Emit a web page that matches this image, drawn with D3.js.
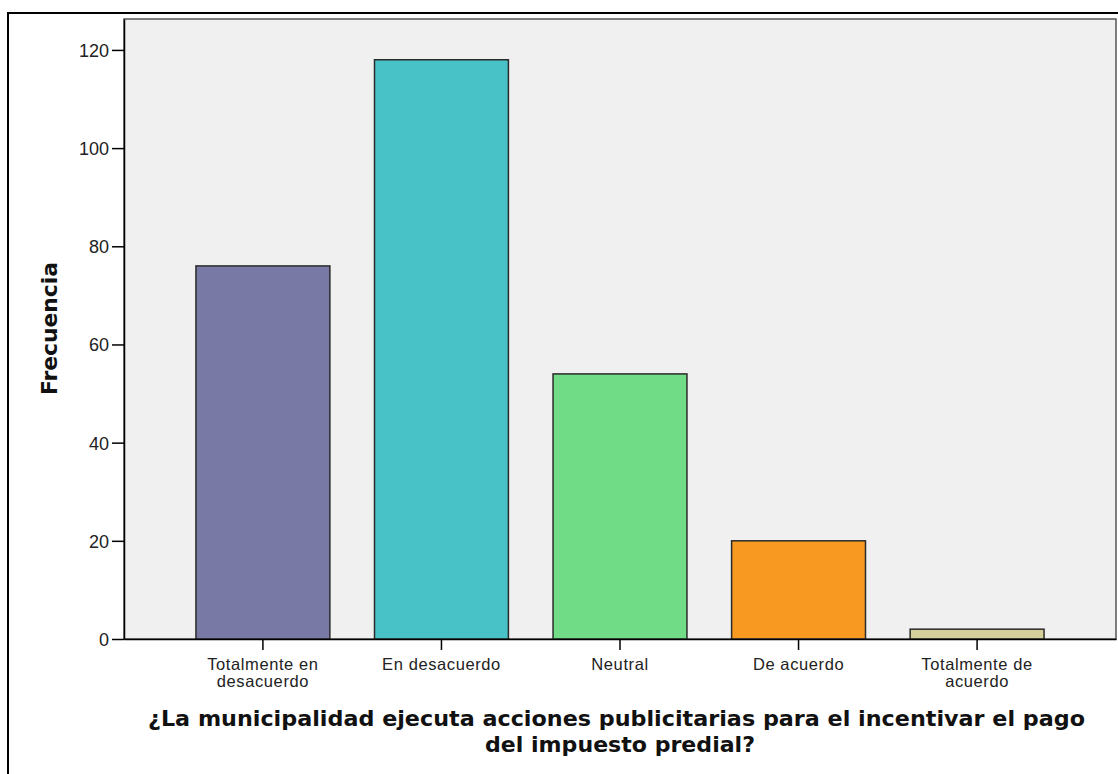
<!DOCTYPE html>
<html><head><meta charset="utf-8">
<script src="https://cdn.jsdelivr.net/npm/d3@7"></script>
<style>body{margin:0;background:#fff}svg{display:block}</style>
</head><body>
<svg id="chart" width="1118" height="774"></svg>
<script>
const categories = [["Totalmente en","desacuerdo"],["En desacuerdo"],["Neutral"],["De acuerdo"],["Totalmente de","acuerdo"]];
const values = [76, 118, 54, 20, 2];
const colors = ["#7979a6", "#48c2c6", "#70dd86", "#f89a21", "#d5cf9b"];
const yTicks = [0, 20, 40, 60, 80, 100, 120];
const yTitle = "Frecuencia";
const xTitle = ["¿La municipalidad ejecuta acciones publicitarias para el incentivar el pago","del impuesto predial?"];

const FONT = "Liberation Sans, Arial, sans-serif";
const BFONT = "DejaVu Sans, Verdana, sans-serif";
const svg = d3.select("#chart");
const plot = {left:124, right:1116, top:19, bottom:639};
const keys = categories.map(c => c.join(" "));
const x = d3.scaleBand().domain(keys).range([plot.left, plot.right]).paddingInner(0.25).paddingOuter(0.403);
const y = d3.scaleLinear().domain([0, 126.3]).range([plot.bottom, plot.top]);

// outer frame
svg.append("rect").attr("x",8).attr("y",13).attr("width",1130).attr("height",800)
  .attr("fill","none").attr("stroke","#000").attr("stroke-width",2);

// plot background
svg.append("rect").attr("x",plot.left).attr("y",plot.top).attr("width",plot.right-plot.left).attr("height",plot.bottom-plot.top)
  .attr("fill","#f0f0f0").attr("stroke","#555").attr("stroke-width",1.5);

// bars
svg.selectAll("rect.bar").data(values).enter().append("rect").attr("class","bar")
  .attr("x",(d,i)=>x(keys[i])).attr("width",x.bandwidth())
  .attr("y",d=>y(d)).attr("height",d=>y(0)-y(d))
  .attr("fill",(d,i)=>colors[i]).attr("stroke","#2a2a2a").attr("stroke-width",1.5);

// y axis
const yAxis = svg.append("g").attr("transform",`translate(${plot.left},0)`)
  .call(d3.axisLeft(y).tickValues(yTicks).tickSize(12).tickSizeOuter(0).tickPadding(3).tickFormat(d3.format("d")));
yAxis.select(".domain").attr("stroke","#000").attr("stroke-width",1.5);
yAxis.selectAll(".tick line").attr("stroke","#000").attr("stroke-width",1.5);
yAxis.selectAll(".tick text").attr("font-family",FONT).attr("font-size",18).attr("fill","#222").attr("dy","0.36em");

// x axis
const xAxis = svg.append("g").attr("transform",`translate(0,${plot.bottom})`)
  .call(d3.axisBottom(x).tickSize(11).tickSizeOuter(0).tickFormat(""));
xAxis.select(".domain").attr("stroke","#000").attr("stroke-width",1.5);
xAxis.selectAll(".tick line").attr("stroke","#000").attr("stroke-width",1.5);
xAxis.selectAll(".tick").each(function(d,i){
  const t = d3.select(this).append("text").attr("fill","#222")
    .attr("font-family",FONT).attr("font-size",16.5).attr("letter-spacing",0.6)
    .attr("text-anchor","middle");
  categories[i].forEach((line,j)=>{
    t.append("tspan").attr("x",0).attr("y",30.5 + j*17.5).text(line);
  });
});

// y title
svg.append("text").attr("transform",`translate(57,328.5) rotate(-90)`)
  .attr("text-anchor","middle").attr("font-family",BFONT)
  .attr("font-size",21).attr("font-weight","bold").attr("fill","#111")
  .attr("textLength",133).attr("lengthAdjust","spacingAndGlyphs").text(yTitle);

// x title
const titleLens = [937, 270];
xTitle.forEach((line,j)=>{
  svg.append("text").attr("text-anchor","middle").attr("font-family",BFONT)
    .attr("font-size",20.5).attr("font-weight","bold").attr("fill","#111")
    .attr("x", j===0 ? 616.5 : 620).attr("y",726 + j*26)
    .attr("textLength",titleLens[j]).attr("lengthAdjust","spacingAndGlyphs").text(line);
});
</script>
</body></html>
